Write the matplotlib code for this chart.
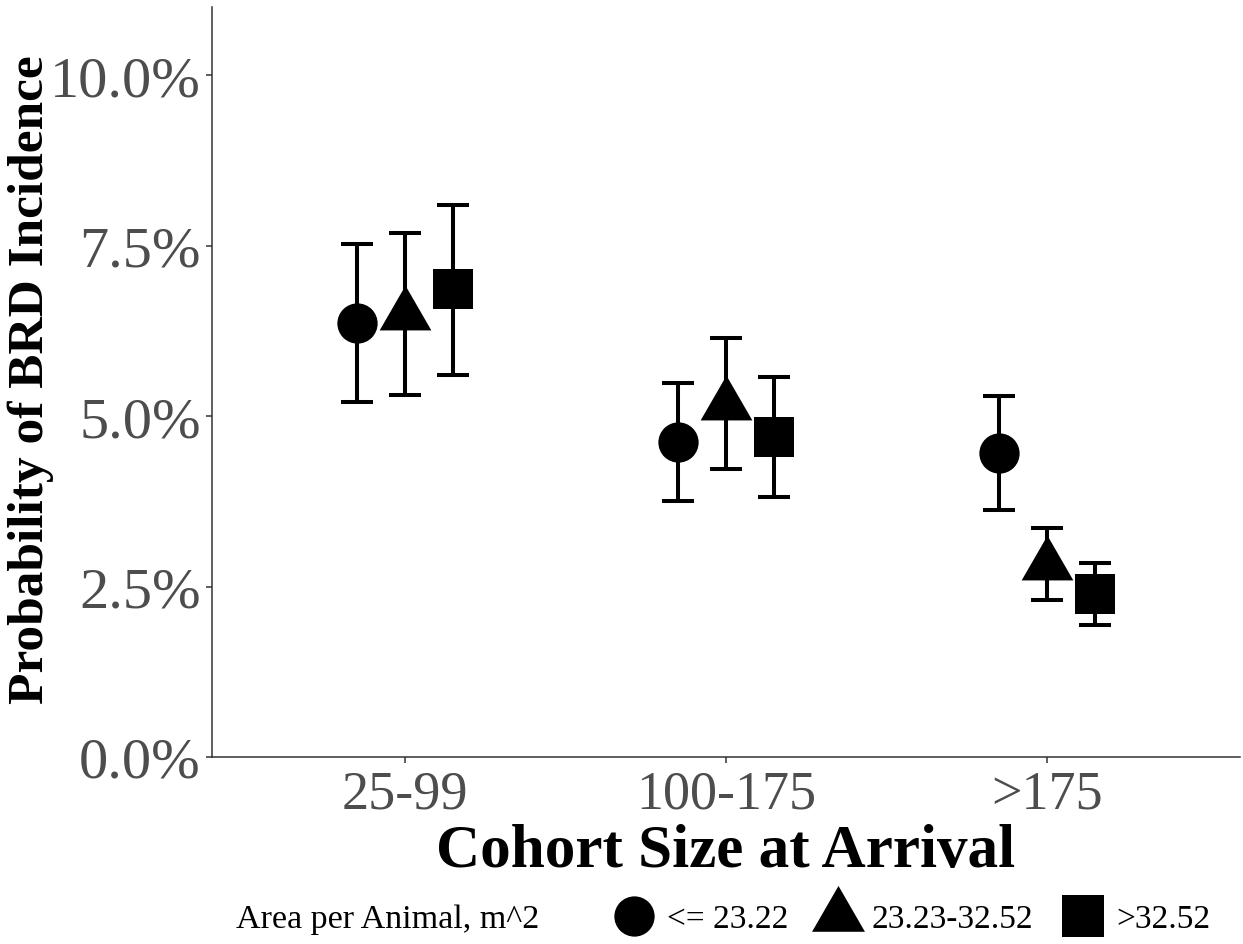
import numpy as np
import matplotlib
matplotlib.use("Agg")
import matplotlib.pyplot as plt
from matplotlib.lines import Line2D
from matplotlib.ticker import FuncFormatter

# dados (probabilidade em %)
cohort = ["25-99", "100-175", ">175"]
area_groups = ["<= 23.22", "23.23-32.52", ">32.52"]

prob_small = [6.36, 4.62, 4.46]
low_small = [5.20, 3.76, 3.63]
high_small = [7.52, 5.48, 5.29]

prob_mid = [6.48, 5.17, 2.82]
low_mid = [5.31, 4.23, 2.30]
high_mid = [7.68, 6.15, 3.36]

prob_large = [6.86, 4.70, 2.39]
low_large = [5.61, 3.82, 1.94]
high_large = [8.10, 5.57, 2.85]

plt.rcParams["font.family"] = ["Liberation Serif", "DejaVu Serif"]

# triângulo estilo R (centro no circuncentro)
tri = [(0, 1), (-0.866, -0.5), (0.866, -0.5), (0, 1)]
markers = ["o", tri, "s"]
msizes = [29, 43, 29]

series = [
    (prob_small, low_small, high_small),
    (prob_mid, low_mid, high_mid),
    (prob_large, low_large, high_large),
]
offsets = [-0.15, 0.0, 0.15]

fig = plt.figure(figsize=(12.43, 9.45), dpi=100)
ax = fig.add_axes([212 / 1243, 1 - 758 / 945, 1028 / 1243, 750 / 945])

x = np.arange(1, len(cohort) + 1)
for (p, lo, hi), off, mk, ms in zip(series, offsets, markers, msizes):
    p = np.array(p)
    yerr = [p - np.array(lo), np.array(hi) - p]
    ax.errorbar(x + off, p, yerr=yerr, fmt="none", ecolor="black",
                elinewidth=2.9, capsize=11.5, capthick=2.9, zorder=2)
    ax.plot(x + off, p, linestyle="none", marker=mk, markersize=ms,
            color="black", markeredgewidth=0, zorder=3)

ax.set_xlim(0.4, 3.6)
ax.set_ylim(0, 11)
ax.set_xticks(x)
ax.set_xticklabels(cohort)
ax.set_yticks([0, 2.5, 5.0, 7.5, 10.0])
ax.yaxis.set_major_formatter(FuncFormatter(lambda v, _: f"{v:.1f}%"))

for s in ["top", "right"]:
    ax.spines[s].set_visible(False)
for s in ["left", "bottom"]:
    ax.spines[s].set_color("#333333")
    ax.spines[s].set_linewidth(1.1)

ax.tick_params(axis="y", labelsize=42, labelcolor="#4D4D4D", color="#333333",
               length=4, width=1.1, pad=4)
ax.tick_params(axis="x", labelsize=39, labelcolor="#4D4D4D", color="#333333",
               length=4, width=1.1, pad=5)

ax.set_xlabel("Cohort Size at Arrival", fontsize=44, fontweight="bold")
ax.xaxis.set_label_coords(0.5, -0.125)
ax.xaxis.label.set_va("center")
ax.set_ylabel("Probability of BRD Incidence", fontsize=37, fontweight="bold")
ax.yaxis.set_label_coords(-0.176, 0.505)
ax.yaxis.label.set_va("center")

# legenda
fig.text(236 / 1243, 1 - 920 / 945, "Area per Animal, m^2", fontsize=24.5,
         ha="left", va="center")
handles = [Line2D([], [], linestyle="none", marker=mk, markersize=ms,
                  color="black", markeredgewidth=0)
           for mk, ms in zip(markers, [29, 44, 30])]
fig.legend(handles, area_groups, loc="center left",
           bbox_to_anchor=(612 / 1243, 1 - 920 / 945), ncol=3, frameon=False,
           fontsize=24, handlelength=1.3, handletextpad=0.35,
           columnspacing=0.85, borderpad=0, borderaxespad=0)

fig.savefig("out.png", dpi=100)
